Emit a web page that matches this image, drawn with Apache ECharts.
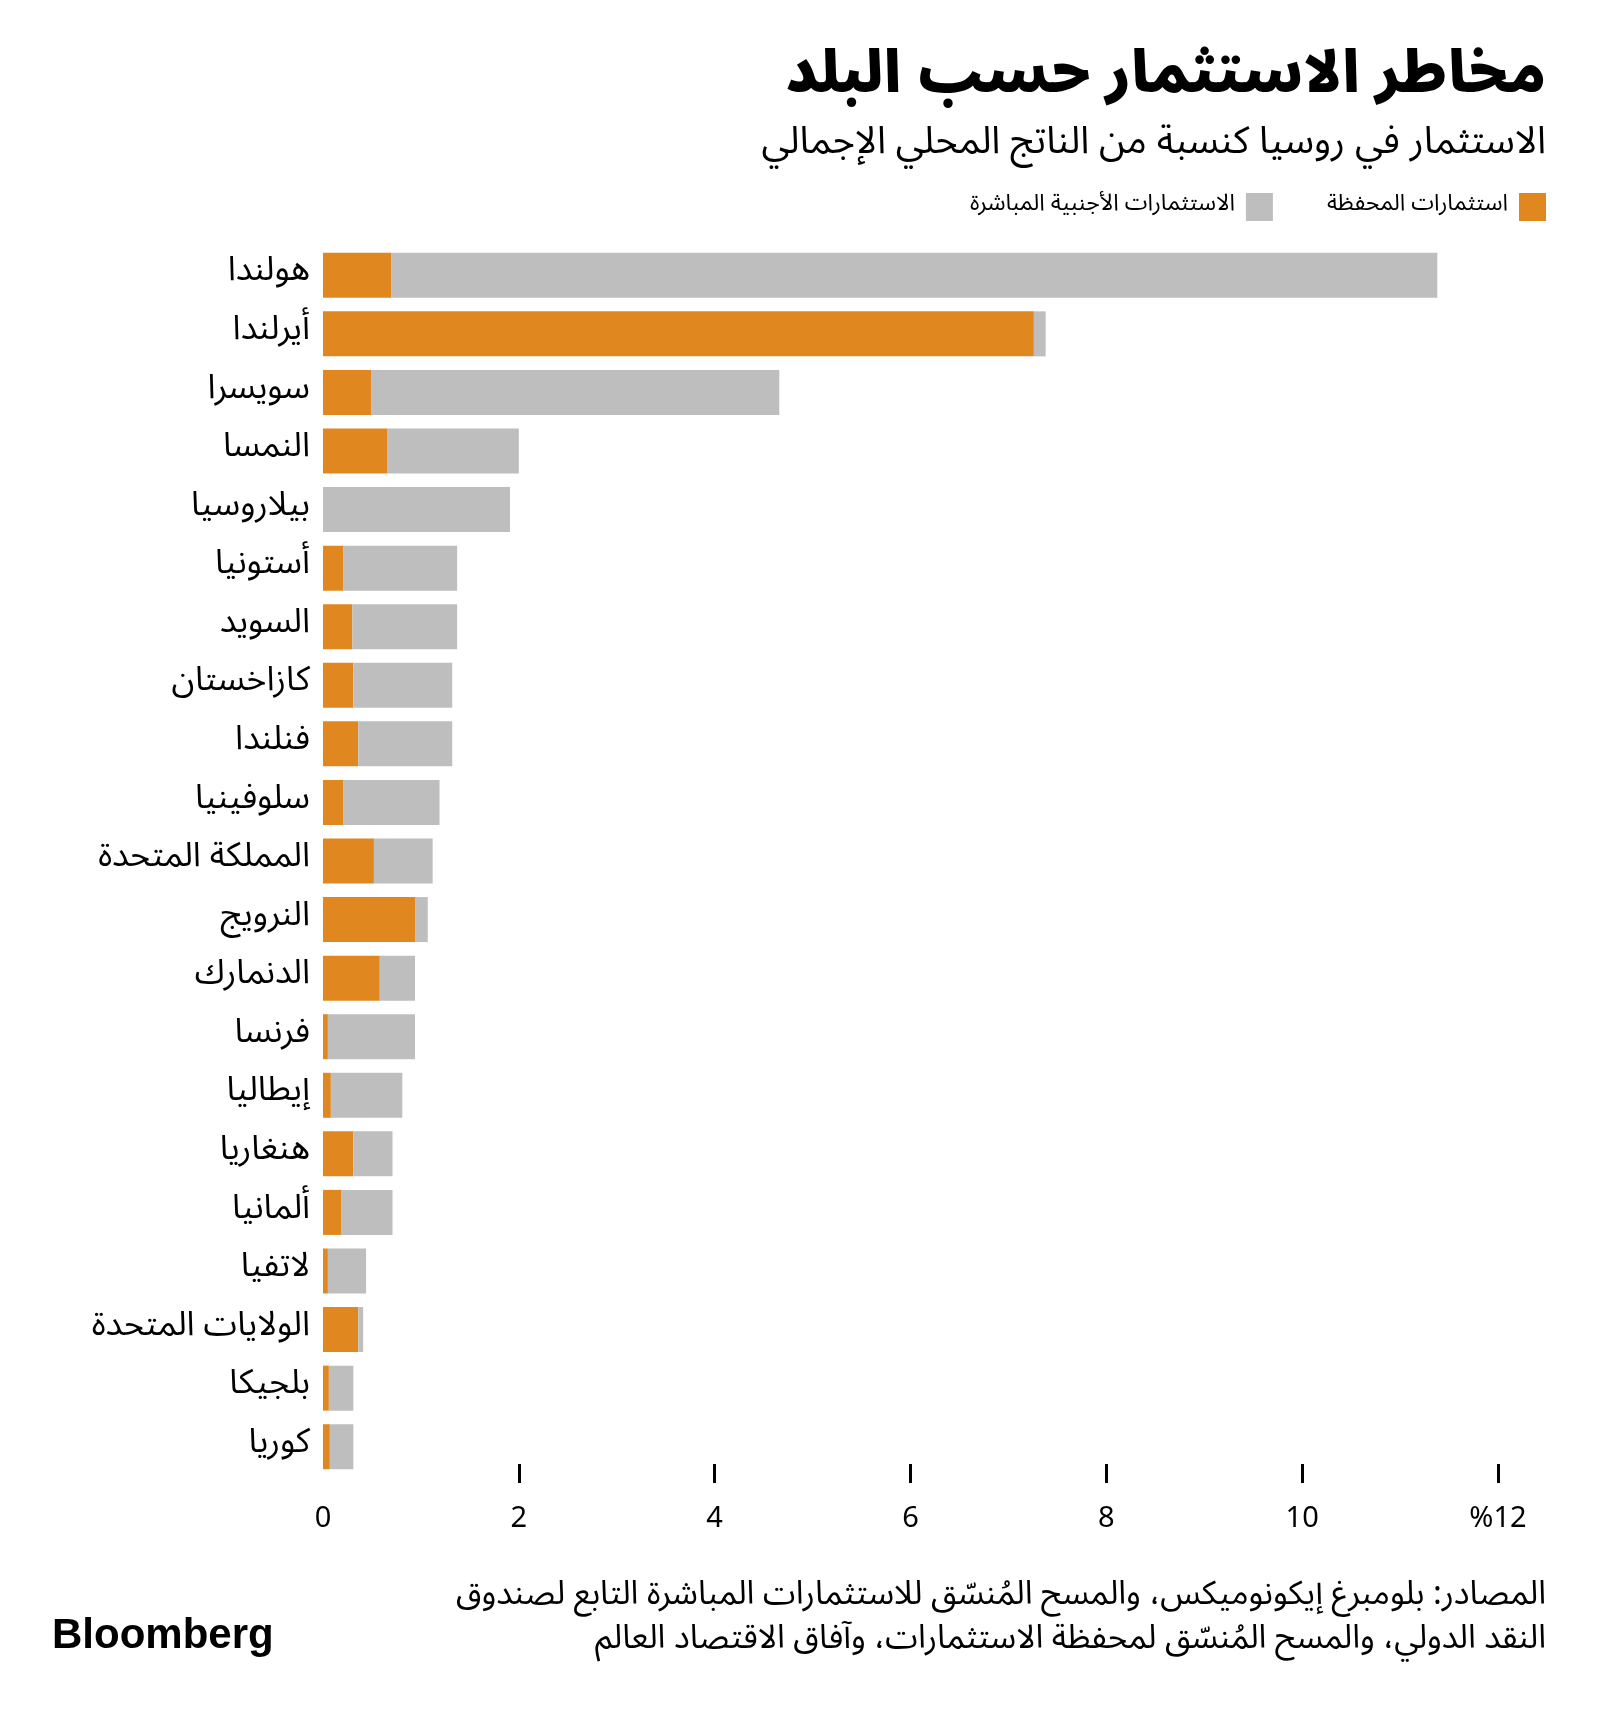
<!DOCTYPE html>
<html>
<head>
<meta charset="utf-8">
<script src="https://cdn.jsdelivr.net/npm/echarts@6/dist/echarts.min.js"></script>
<style>
html,body{margin:0;padding:0;background:#fff;}
#chart{width:1600px;height:1713px;}
</style>
</head>
<body>
<div id="chart"></div>
<script>
const categories = ['هولندا','أيرلندا','سويسرا','النمسا','بيلاروسيا','أستونيا','السويد','كازاخستان','فنلندا','سلوفينيا','المملكة المتحدة','النرويج','الدنمارك','فرنسا','إيطاليا','هنغاريا','ألمانيا','لاتفيا','الولايات المتحدة','بلجيكا','كوريا'];
const portfolio = [0.70, 7.26, 0.49, 0.66, 0, 0.21, 0.30, 0.31, 0.36, 0.21, 0.52, 0.94, 0.58, 0.05, 0.08, 0.31, 0.19, 0.05, 0.36, 0.06, 0.07];
const fdi = [10.68, 0.12, 4.17, 1.34, 1.91, 1.16, 1.07, 1.01, 0.96, 0.98, 0.60, 0.13, 0.36, 0.89, 0.73, 0.40, 0.52, 0.39, 0.05, 0.25, 0.24];
const tickValues = [0, 2, 4, 6, 8, 10, 12];
const seriesNames = ['استثمارات المحفظة', 'الاستثمارات الأجنبية المباشرة'];
const titleText = 'مخاطر الاستثمار حسب البلد';
const subtitleText = 'الاستثمار في روسيا كنسبة من الناتج المحلي الإجمالي';
const sourceLines = ['المصادر: بلومبرغ إيكونوميكس، والمسح المُنسّق للاستثمارات المباشرة التابع لصندوق', 'النقد الدولي، والمسح المُنسّق لمحفظة الاستثمارات، وآفاق الاقتصاد العالم'];

const FONT = '"Noto Sans Arabic","Noto Naskh Arabic","DejaVu Sans",sans-serif';
const chart = echarts.init(document.getElementById('chart'), null, {renderer: 'canvas'});
chart.setOption({
  backgroundColor: '#ffffff',
  animation: false,
  textStyle: {fontFamily: FONT},
  graphic: [
    {type: 'text', right: 54, top: 54, style: {text: titleText, font: '900 58px ' + FONT, fill: '#000', textAlign: 'right'}},
    {type: 'text', right: 54, top: 128, style: {text: subtitleText, font: '38px ' + FONT, fill: '#000', textAlign: 'right'}},
    {type: 'text', right: 54, top: 1583, style: {text: sourceLines[0], font: '33px ' + FONT, fill: '#000', textAlign: 'right'}},
    {type: 'text', right: 54, top: 1627, style: {text: sourceLines[1], font: '33px ' + FONT, fill: '#000', textAlign: 'right'}},
    {type: 'text', left: 52, top: 1615, style: {text: 'Bloomberg', font: 'bold 42px "Liberation Sans",Arial,sans-serif', fill: '#000'}}
  ],
  legend: {
    data: [seriesNames[1], seriesNames[0]],
    right: 54, top: 193, padding: 0,
    align: 'right',
    itemWidth: 27, itemHeight: 28, itemGap: 54,
    icon: 'rect',
    textStyle: {fontSize: 23, color: '#000', fontFamily: FONT, padding: [0, 6, 0, 0]}
  },
  grid: {left: 323, right: 102, top: 246, bottom: 237, containLabel: false},
  xAxis: {
    type: 'value', min: 0, max: 12, interval: 2,
    offset: -12,
    axisLine: {show: false},
    splitLine: {show: false},
    axisTick: {show: true, customValues: [2, 4, 6, 8, 10, 12], length: 19, lineStyle: {color: '#000', width: 3}},
    axisLabel: {customValues: tickValues, fontSize: 29, color: '#000', margin: 44, fontFamily: FONT,
      formatter: v => v === 12 ? '%12' : String(v)}
  },
  yAxis: {
    type: 'category', data: categories, inverse: true,
    axisLine: {show: false}, axisTick: {show: false},
    axisLabel: {fontSize: 34, color: '#000', margin: 13, fontFamily: FONT}
  },
  series: [
    {name: seriesNames[0], type: 'bar', stack: 'total', data: portfolio, barWidth: 45, itemStyle: {color: '#E0881F'}},
    {name: seriesNames[1], type: 'bar', stack: 'total', data: fdi, barWidth: 45, itemStyle: {color: '#BEBEBE'}}
  ]
});
</script>
</body>
</html>
